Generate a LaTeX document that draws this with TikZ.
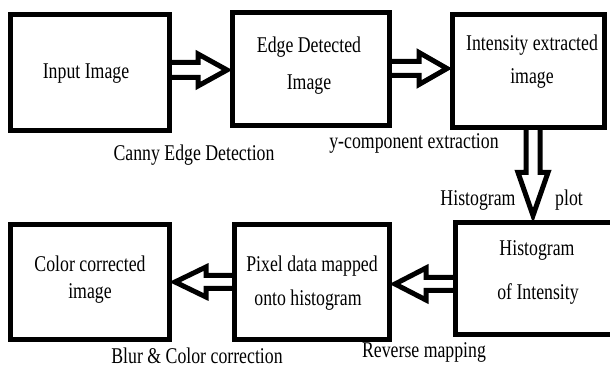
\documentclass[tikz,border=0pt]{standalone}
\usepackage{fontspec}
\setmainfont{Liberation Serif}[FakeStretch=0.79]
\usetikzlibrary{calc}
\newcommand\arrR[5]{\draw[arr] let \p1=(#1),\p2=(#2) in (\x1,\y2+#4) -- (\x2-#3,\y2+#4) -- (\x2-#3,\y2+#5) -- (\x2,\y2) -- (\x2-#3,\y2-#5) -- (\x2-#3,\y2-#4) -- (\x1,\y2-#4);}
\newcommand\arrL[5]{\draw[arr] let \p1=(#1),\p2=(#2) in (\x1,\y2+#4) -- (\x2+#3,\y2+#4) -- (\x2+#3,\y2+#5) -- (\x2,\y2) -- (\x2+#3,\y2-#5) -- (\x2+#3,\y2-#4) -- (\x1,\y2-#4);}
\newcommand\arrD[5]{\draw[arr] let \p1=(#1),\p2=(#2) in (\x2+#4,\y1) -- (\x2+#4,\y2+#3) -- (\x2+#5,\y2+#3) -- (\x2,\y2) -- (\x2-#5,\y2+#3) -- (\x2-#4,\y2+#3) -- (\x2-#4,\y1);}
\begin{document}
\begin{tikzpicture}[x=1pt,y=1pt,
  box/.style={draw,line width=5pt,inner sep=0pt},
  txt/.style={font=\fontsize{22.5}{26}\selectfont,inner sep=0pt},
  arr/.style={line width=5pt,line join=miter}]
\useasboundingbox (0,0) rectangle (610,369);
\fill[white] (0,0) rectangle (610,369);
% boxes
\node[box,minimum width=159pt,minimum height=116pt] (b1) at (90,296.5) {};
\node[box,minimum width=157pt,minimum height=113pt] (b2) at (311,300) {};
\node[box,minimum width=152pt,minimum height=113pt] (b3) at (528.5,298) {};
\node[box,minimum width=157pt,minimum height=112pt] (b4) at (534,90.5) {};
\node[box,minimum width=155pt,minimum height=115pt] (b5) at (312,87) {};
\node[box,minimum width=159pt,minimum height=115pt] (b6) at (90,87) {};
% box texts
\node[txt] (t1) at (86,295) {Input Image};
\node[txt] (t2a) at (309,322) {Edge Detected};
\node[txt] (t2b) at (309,284) {Image};
\node[txt] (t3a) at (532,324) {Intensity extracted};
\node[txt] (t3b) at (532,291) {image};
\node[txt] (t4a) at (537,119) {Histogram};
\node[txt] (t4b) at (538,75) {of Intensity};
\node[txt] (t5a) at (312,103) {Pixel data mapped};
\node[txt] (t5b) at (308,69) {onto histogram};
\node[txt] (t6a) at (90,105.5) {Color corrected};
\node[txt] (t6b) at (90,76) {image};
% labels
\node[txt] (l1) at (194,214) {Canny Edge Detection};
\node[txt] (l2) at (414,226) {y-component extraction};
\node[txt] (l3) at (478,169) {Histogram};
\node[txt] (l4) at (569,169) {plot};
\node[txt] (l5) at (197,13.5) {Blur \& Color correction};
\node[txt] (l6) at (424,17) {Reverse mapping};
% arrow tips
\coordinate (a1t) at ($(b2.west)+(-3,-1)$);
\coordinate (a2t) at ($(b3.west)+(-3,2.5)$);
\coordinate (a3t) at ($(b5.east)+(3,-2)$);
\coordinate (a4t) at ($(b6.east)+(3,0)$);
\coordinate (a5t) at ($(b4.north)+(-1,4.5)$);
% arrows
\arrR{b1.east}{a1t}{29pt}{7.5pt}{16pt}
\arrR{b2.east}{a2t}{28pt}{7pt}{16pt}
\arrL{b4.west}{a3t}{31pt}{6.5pt}{16pt}
\arrL{b5.west}{a4t}{31pt}{6.5pt}{15pt}
\arrD{b3.south}{a5t}{43pt}{7pt}{15pt}
\end{tikzpicture}
\end{document}
